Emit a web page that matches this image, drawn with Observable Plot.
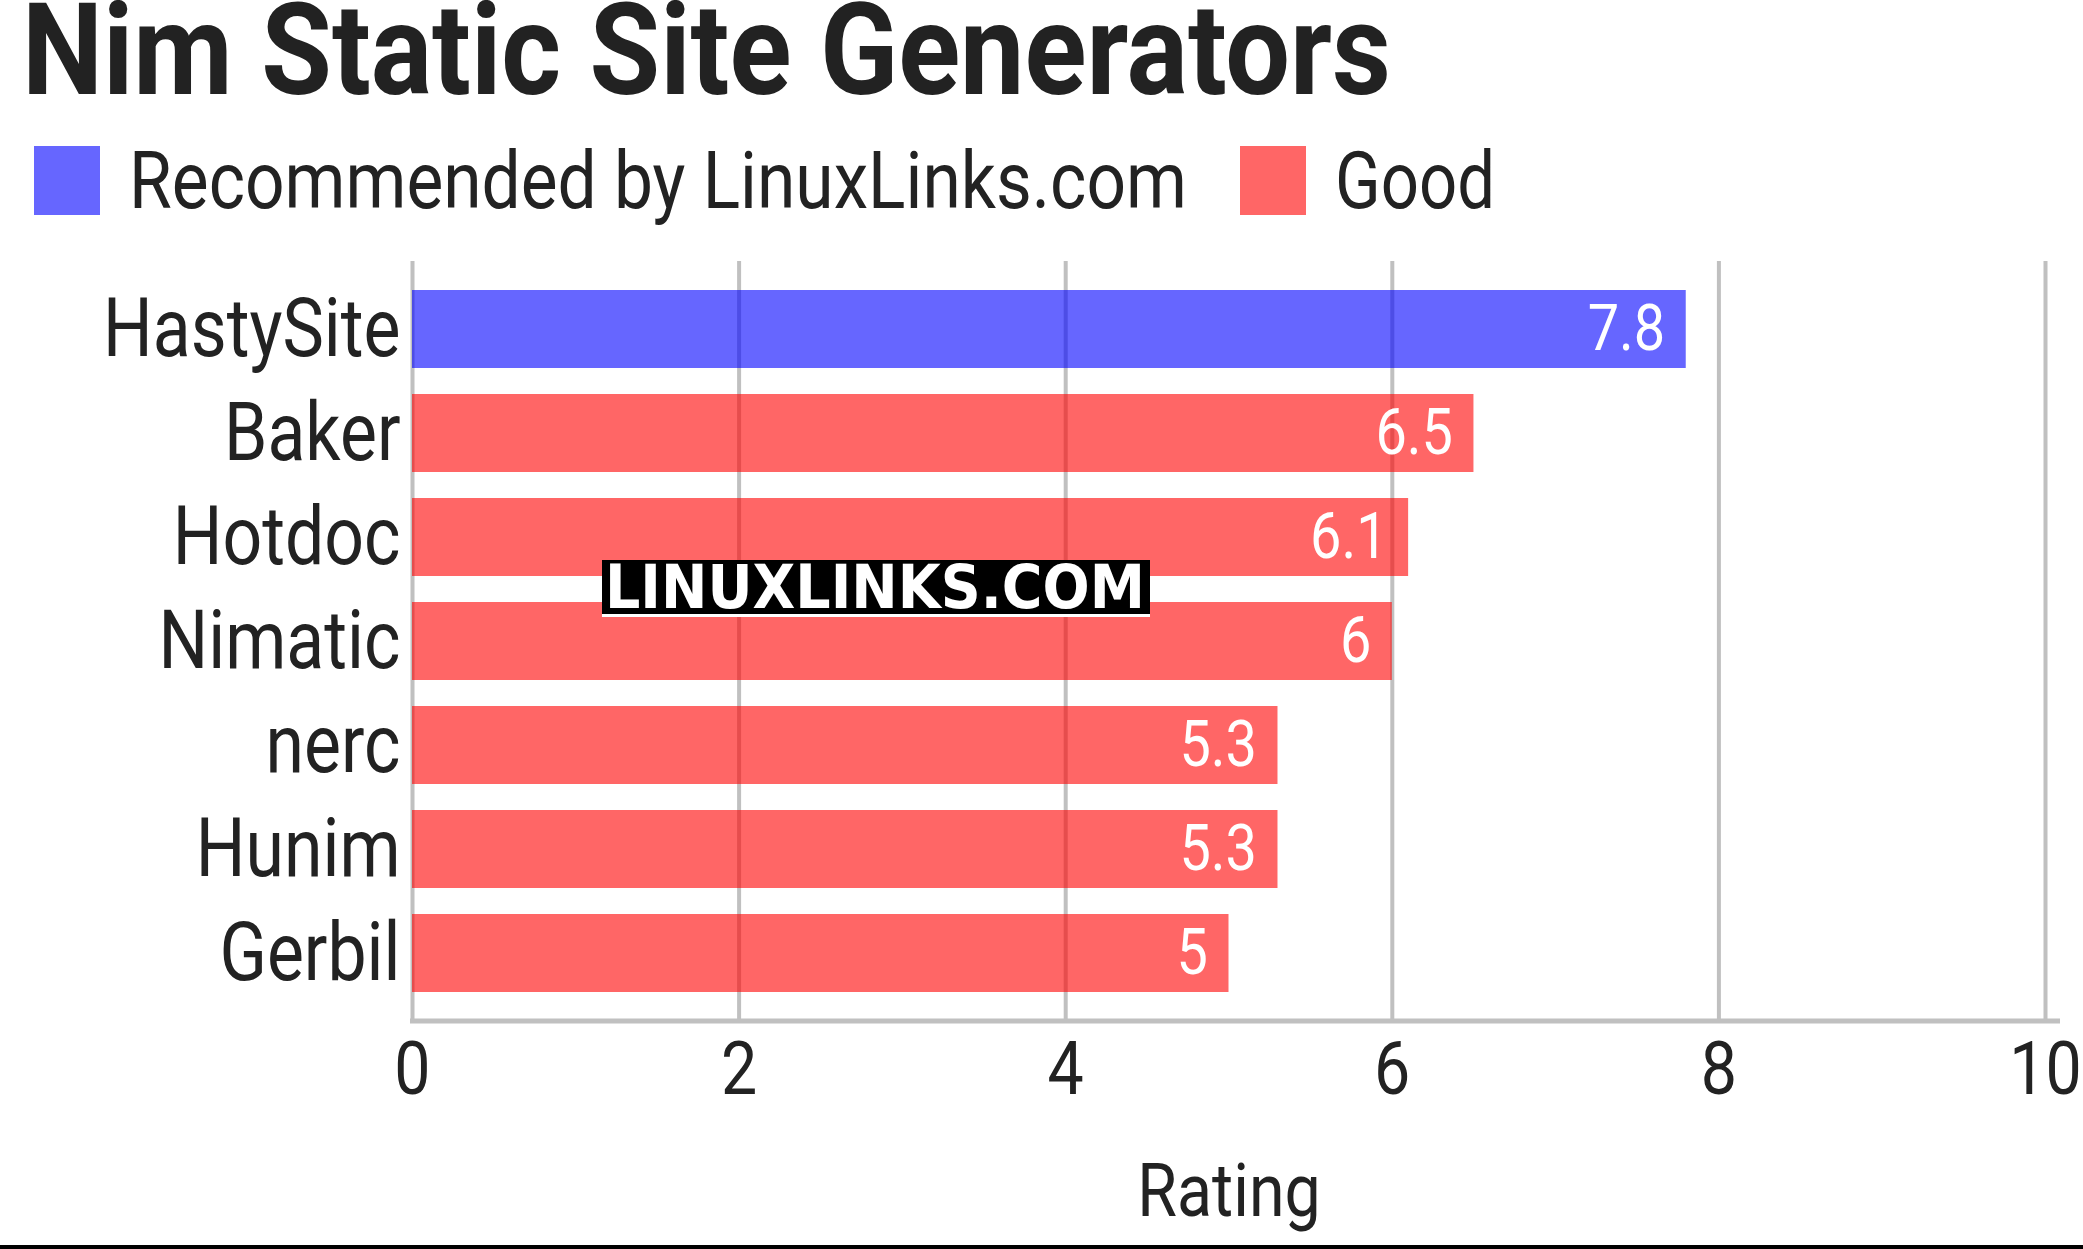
<!DOCTYPE html>
<html>
<head>
<meta charset="utf-8">
<script src="https://cdn.jsdelivr.net/npm/d3@7"></script>
<script src="https://cdn.jsdelivr.net/npm/@observablehq/plot@0.6"></script>
<style>
  html, body { margin: 0; padding: 0; background: #fff; }
  body { width: 2083px; height: 1249px; position: relative; overflow: hidden; font-family: Roboto, sans-serif; color: #222; }
  #title { position: absolute; left: 22px; top: -7px; font-size: 128px; font-weight: 700; line-height: 0.9; white-space: nowrap; transform-origin: 0 0; }
  #legend { position: absolute; left: 34px; top: 146px; display: flex; align-items: flex-start; }
  .item { display: flex; align-items: flex-start; margin-right: 53px; }
  .sw { width: 66px; height: 69px; flex: none; }
  .lbl { display: inline-block; margin-left: 29px; height: 69px; position: relative; }
  .lbl span { position: absolute; left: 0; top: -4px; font-size: 79px; line-height: 1; white-space: nowrap; transform-origin: 0 0; }
  #chart { position: absolute; left: 0; top: 230px; }
  #wm { position: absolute; left: 602px; top: 560px; width: 548px; height: 54px; background: #000; border-bottom: 3px solid #fff; z-index: 5; }
  #wm span { position: absolute; left: 3px; top: 0; font-family: "DejaVu Sans", sans-serif; font-weight: 700; font-size: 60px; line-height: 54px; color: #fff; white-space: nowrap; transform-origin: 0 0; }
  #rule { position: absolute; left: 0; top: 1245px; width: 2083px; height: 4px; background: #000; }
</style>
</head>
<body>
<div id="title">Nim Static Site Generators</div>
<div id="legend"></div>
<div id="chart"></div>
<div id="wm"><span>LINUXLINKS.COM</span></div>
<div id="rule"></div>
<script>
// ---- data ----
const names = ["HastySite", "Baker", "Hotdoc", "Nimatic", "nerc", "Hunim", "Gerbil"];
const ratings = [7.8, 6.5, 6.1, 6, 5.3, 5.3, 5];
const groups = ["Recommended by LinuxLinks.com", "Good", "Good", "Good", "Good", "Good", "Good"];
const legendLabels = ["Recommended by LinuxLinks.com", "Good"];
const legendColors = ["#0000ff", "#ff0000"];
const xTicks = [0, 2, 4, 6, 8, 10];
const xLabel = "Rating";

const data = names.map((name, i) => ({name, value: ratings[i], group: groups[i]}));

// ---- layout constants ----
const COND = 0.86;
const COND_Y = 0.85;

// legend
const legend = document.getElementById("legend");
legendLabels.forEach((lab, i) => {
  const item = document.createElement("div");
  item.className = "item";
  const sw = document.createElement("div");
  sw.className = "sw";
  sw.style.background = legendColors[i];
  sw.style.opacity = 0.6;
  const lbl = document.createElement("div");
  lbl.className = "lbl";
  const sp = document.createElement("span");
  sp.textContent = lab;
  lbl.appendChild(sp);
  item.appendChild(sw);
  item.appendChild(lbl);
  legend.appendChild(item);
});

const chart = Plot.plot({
  width: 2083,
  height: 1012,
  marginTop: 31,
  marginBottom: 221,
  marginLeft: 412,
  marginRight: 38,
  style: {fontFamily: "Roboto, sans-serif", color: "#222", background: "transparent"},
  x: {domain: [0, 10]},
  y: {domain: names, padding: 0.25},
  color: {domain: legendLabels, range: legendColors},
  marks: [
    Plot.gridX(xTicks, {stroke: "#c0c0c0", strokeOpacity: 1, strokeWidth: 4}),
    Plot.barX(data, {x: "value", y: "name", fill: "group", fillOpacity: 0.6}),
    (index, scales, values, dims) => {
      const g = document.createElementNS("http://www.w3.org/2000/svg", "line");
      const yb = dims.height - dims.marginBottom;
      g.setAttribute("x1", scales.x(xTicks[0]) - 2);
      g.setAttribute("x2", scales.x(xTicks[xTicks.length - 1]) + 15);
      g.setAttribute("y1", yb);
      g.setAttribute("y2", yb);
      g.setAttribute("stroke", "#c0c0c0");
      g.setAttribute("stroke-width", 5);
      return g;
    },
    Plot.text(data, {x: "value", y: "name", text: d => String(d.value), textAnchor: "end", dx: -21, fill: "white", fontSize: 65}),
    Plot.axisY({tickSize: 0, tickPadding: 12, fontSize: 82, label: null, ariaLabel: "y-axis"}),
    Plot.axisX(xTicks, {tickSize: 0, tickPadding: 19, fontSize: 75, tickFormat: d => String(d), label: xLabel, labelAnchor: "center", labelOffset: 194, labelArrow: "none"})
  ]
});
document.getElementById("chart").appendChild(chart);

// condense SVG text horizontally (Roboto Condensed look), keeping the anchor point
const yLabelSet = new Set(names);
chart.querySelectorAll("text").forEach(t => {
  const xa = t.getAttribute("x");
  const x = xa ? parseFloat(xa) : 0;
  if (xa) t.removeAttribute("x");
  const s = yLabelSet.has(t.textContent) ? COND_Y : COND;
  const tr = t.getAttribute("transform") || "";
  t.setAttribute("transform", `${tr} translate(${x},0) scale(${s},1)`);
});

// fit HTML texts
function fit(el, target) {
  const w = el.getBoundingClientRect().width;
  el.style.transform = `scaleX(${target / w})`;
  return target;
}
fit(document.getElementById("title"), 1369);
const spans = legend.querySelectorAll(".lbl span");
const targets = [1058, 160];
spans.forEach((sp, i) => {
  fit(sp, targets[i]);
  sp.parentNode.style.width = targets[i] + "px";
});
fit(document.querySelector("#wm span"), 540);
</script>
</body>
</html>
